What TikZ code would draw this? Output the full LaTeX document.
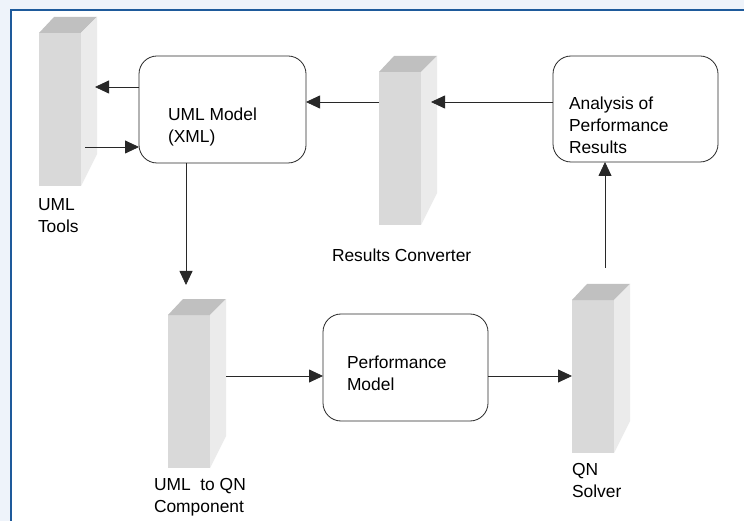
\documentclass[tikz,border=0pt]{standalone}
\usepackage{fontspec}
\setmainfont{Liberation Sans}
\usetikzlibrary{arrows.meta,calc}
\definecolor{bgblue}{RGB}{238,243,250}
\definecolor{frameblue}{RGB}{30,90,155}
\definecolor{frontc}{RGB}{217,217,217}
\definecolor{topc}{RGB}{192,192,192}
\definecolor{sidec}{RGB}{235,235,235}
\definecolor{linec}{RGB}{40,40,40}
\tikzset{
  blockfront/.style={rectangle, fill=frontc, minimum width=42pt, minimum height=153pt, inner sep=0pt, outer sep=0pt},
  procbox/.style={draw=linec, line width=0.8pt, rounded corners=18pt, fill=white, inner sep=0pt, outer sep=0pt},
  lbl/.style={anchor=north west, inner sep=0pt, outer sep=0pt, align=left, font=\fontsize{17.4}{22}\selectfont},
  arr/.style={draw=linec, line width=0.8pt, -{Triangle[length=14pt,width=13pt]}},
}
\newcommand{\ublock}[3]{%
  \node[blockfront] (#1) at ({#2+21},{#3+76.5}) {};
  \fill[topc] (#1.north west) -- ++(15,-16) -- ($(#1.north east)+(16,-16)$) -- (#1.north east) -- cycle;
  \fill[sidec] (#1.north east) -- ++(16,-16) -- ($(#1.south east)+(16,-32)$) -- (#1.south east) -- cycle;
}
\begin{document}
\begin{tikzpicture}[x=1pt,y=-1pt]
\useasboundingbox (0,0) rectangle (744,521);
\fill[bgblue] (0,0) rectangle (744,521);
\fill[white] (11,10) rectangle (744,521);
\draw[frameblue, line width=1.6pt] (11,521) -- (11,10) -- (744,10);

% 3D blocks
\ublock{tools}{39}{33}
\ublock{conv}{379}{72}
\ublock{uq}{168}{315}
\ublock{qn}{572}{300}

% process boxes
\node[procbox, minimum width=167pt, minimum height=107pt] (model) at (222.5,109.5) {};
\node[procbox, minimum width=165pt, minimum height=106pt] (ana) at (635.5,109) {};
\node[procbox, minimum width=165pt, minimum height=107pt] (perf) at (405.5,367.5) {};

% labels
\node[lbl] (ltools) at (38,199) {UML\\Tools};
\node[lbl] (lmodel) at (168,108) {UML Model\\(XML)};
\node[lbl] (lana) at (569,97) {Analysis of\\Performance\\Results};
\node[lbl] (lconv) at (332,249) {Results Converter};
\node[lbl] (lperf) at (347,356) {Performance\\Model};
\node[lbl] (luq) at (154,478) {UML\ \ to QN\\Component};
\node[lbl] (lqn) at (572,463) {QN\\Solver};

% connectors
\draw[arr] (model.west |- 0,87) -- ($(tools.east |- 0,87)+(14,0)$);
\draw[arr] ($(tools.east |- 0,147)+(4,0)$) -- (model.west |- 0,147);
\draw[arr] (ana.west |- 0,102) -- ($(conv.east |- 0,102)+(10,0)$);
\draw[arr] (conv.west |- 0,102) -- (model.east |- 0,102);
\coordinate (mdown) at (186,285);
\draw[arr] (model.south -| mdown) -- (mdown);
\draw[arr] ($(uq.east |- 0,376)+(16,0)$) -- (perf.west |- 0,376);
\draw[arr] (perf.east |- 0,376) -- (qn.west |- 0,376);
\coordinate (qnup) at (605,268);
\draw[arr] (qnup) -- (ana.south -| qnup);
\end{tikzpicture}
\end{document}
